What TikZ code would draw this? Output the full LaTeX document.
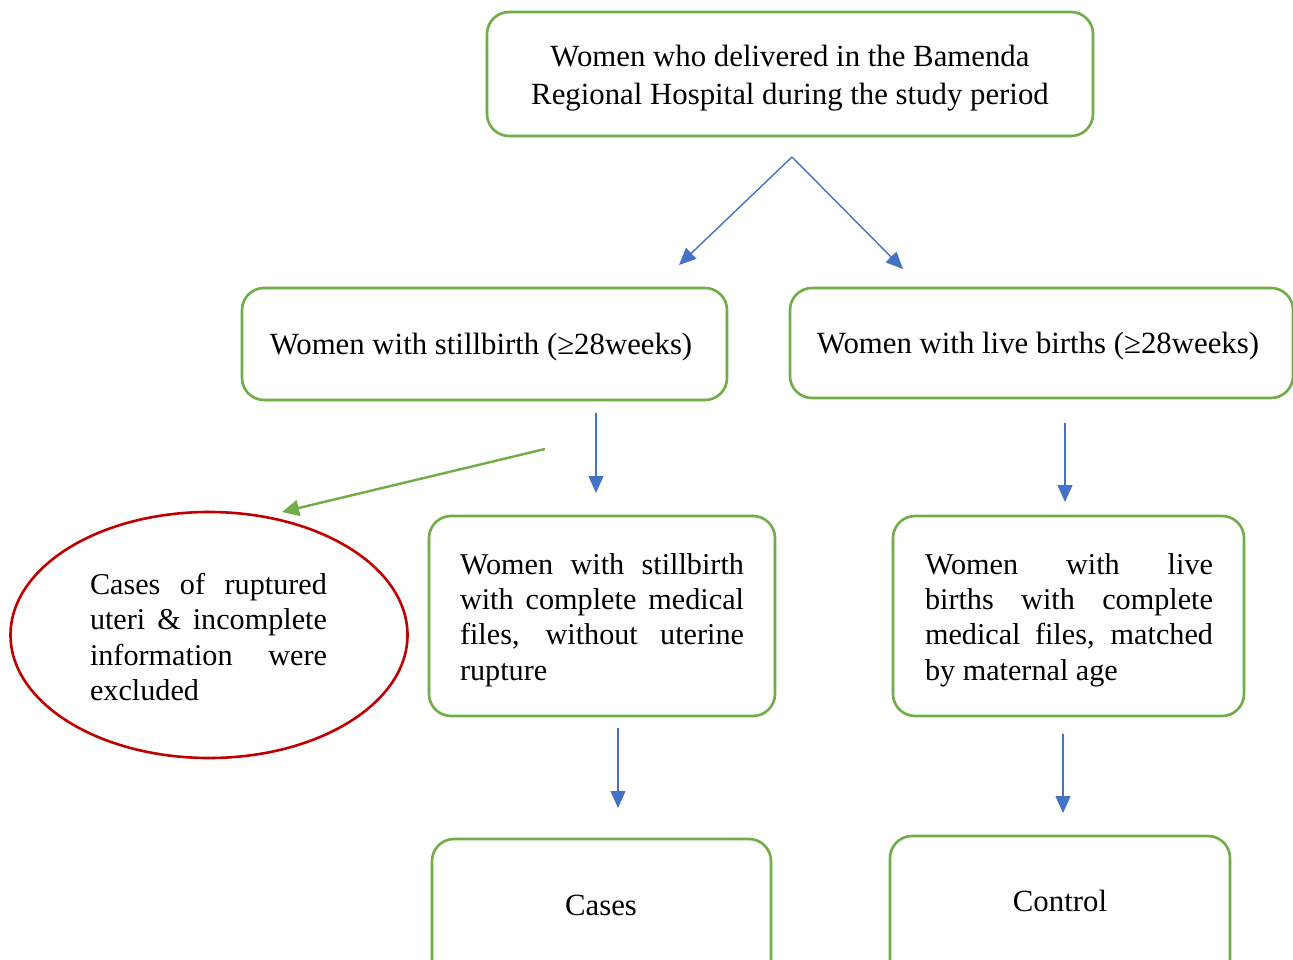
\documentclass[tikz,border=0pt]{standalone}
\usepackage{fontspec}
\setmainfont{Liberation Serif}
\usetikzlibrary{arrows.meta,shapes.geometric}
\definecolor{boxgreen}{HTML}{70AD47}
\definecolor{arrblue}{HTML}{4472C4}
\definecolor{exred}{HTML}{C00000}
\begin{document}
\begin{tikzpicture}[x=1pt,y=-1pt,
  box/.style={draw=boxgreen, line width=2.6pt, rounded corners=22pt, fill=white, inner sep=0pt},
  txt/.style={inner sep=0pt, font=\fontsize{30.8}{38}\selectfont, align=center},
  jtxt/.style={inner sep=0pt, font=\fontsize{30.2}{35.3}\selectfont, align=left},
  blarrow/.style={draw=arrblue, line width=1.4pt, -{Triangle[length=17pt,width=15pt]}},
  grarrow/.style={draw=boxgreen, line width=2.4pt, -{Triangle[length=17pt,width=16pt]}}]
\clip (0,0) rectangle (1293,960);
\fill[white] (0,0) rectangle (1293,960);

\node[box, minimum width=606pt, minimum height=124pt] (top) at (790,74) {};
\node[txt] (topt) at (790,78)
  {Women who delivered in the Bamenda\\Regional Hospital during the study period};

\node[box, minimum width=485pt, minimum height=112pt] (still) at (484.5,344) {};
\node[txt] (stillt) at (481,347) {Women with stillbirth (≥28weeks)};
\node[box, minimum width=503pt, minimum height=110pt] (live) at (1041.5,343) {};
\node[txt] (livet) at (1038,346) {Women with live births (≥28weeks)};

\node[box, minimum width=346pt, minimum height=200pt] (stillc) at (602,616) {};
\node[jtxt] (stillct) at (602,620)
  {\makebox[284pt][s]{Women with stillbirth}\\
   \makebox[284pt][s]{with complete medical}\\
   \makebox[284pt][s]{files, without uterine}\\
   rupture};
\node[box, minimum width=351pt, minimum height=200pt] (livec) at (1068.5,616) {};
\node[jtxt] (livect) at (1069,620)
  {\makebox[288pt][s]{Women with live}\\
   \makebox[288pt][s]{births with complete}\\
   \makebox[288pt][s]{medical files, matched}\\
   by maternal age};

\node[ellipse, draw=exred, line width=2.6pt, minimum width=397pt, minimum height=246pt,
  inner sep=0pt] (excl) at (209,635) {};
\node[jtxt] (exclt) at (208.5,637)
  {\makebox[237pt][s]{Cases of ruptured}\\
   \makebox[237pt][s]{uteri \& incomplete}\\
   \makebox[237pt][s]{information were}\\
   excluded};

\node[box, minimum width=339pt, minimum height=160pt] (cases) at (601.5,919) {};
\node[txt] (casest) at (601,905) {Cases};
\node[box, minimum width=340pt, minimum height=160pt] (control) at (1060,916) {};
\node[txt] (controlt) at (1060,901) {Control};

\coordinate (split) at (792,157);
\coordinate (a1) at (679,265);
\coordinate (a2) at (903,269);
\coordinate (s1) at (596,413);
\coordinate (s2) at (596,493);
\coordinate (l1) at (1065,423);
\coordinate (l2) at (1065,502);
\coordinate (c1) at (618,728);
\coordinate (c2) at (618,808);
\coordinate (d1) at (1063,734);
\coordinate (d2) at (1063,813);
\coordinate (g1) at (545,449);
\coordinate (g2) at (282,512);

\draw[blarrow] (split) -- (a1);
\draw[blarrow] (split) -- (a2);
\draw[blarrow] (s1) -- (s2);
\draw[blarrow] (l1) -- (l2);
\draw[blarrow] (c1) -- (c2);
\draw[blarrow] (d1) -- (d2);
\draw[grarrow] (g1) -- (g2);
\end{tikzpicture}
\end{document}
